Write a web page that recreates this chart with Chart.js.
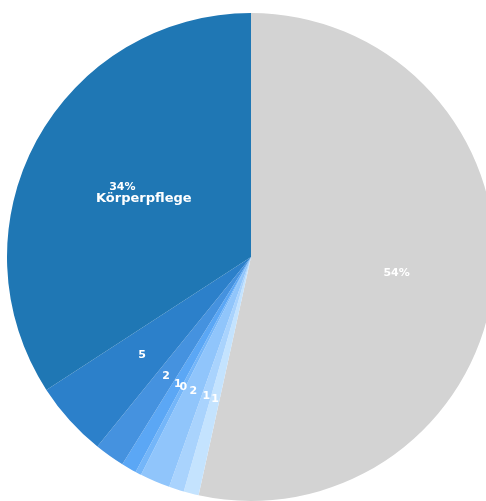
<!DOCTYPE html>
<html>
<head>
<meta charset="utf-8">
<script src="https://cdn.jsdelivr.net/npm/chart.js@4/dist/chart.umd.min.js"></script>
<style>
    html, body { margin: 0; padding: 0; background: #fff; overflow: hidden; }
    #wrap { position: absolute; left: 0; top: 6px; width: 502px; height: 502px; }
</style>
</head>
<body>
<div id="wrap"><canvas id="chart"></canvas></div>
<script>
const categories = ["", "", "", "", "", "", "", "", "Körperpflege"];
const shares = [53.5, 1, 1, 2, 0.4, 1, 2, 5, 34.2];
const colors = ["#d3d3d3", "#c4e3fe", "#a9d3fd", "#90c5fb", "#74b6f9", "#5ba7f5", "#4592df", "#2c80ca", "#1f77b4"];

// draws the value (and category name if any) inside each slice
const sliceLabels = {
    id: "sliceLabels",
    afterDatasetsDraw(chart) {
        const ctx = chart.ctx;
        const meta = chart.getDatasetMeta(0);
        ctx.save();
        ctx.fillStyle = "#ffffff";
        ctx.textAlign = "center";
        ctx.textBaseline = "middle";
        meta.data.forEach((arc, i) => {
            const mid = (arc.startAngle + arc.endAngle) / 2;
            const r = arc.outerRadius;
            const value = Math.round(shares[i]);
            const text = shares[i] >= 10 ? value + "%" : String(value);
            ctx.font = "bold 11px 'DejaVu Sans'";
            ctx.fillText(text, arc.x + Math.cos(mid) * r * 0.6, arc.y + Math.sin(mid) * r * 0.6);
            if (categories[i]) {
                ctx.font = "bold 13px 'DejaVu Sans'";
                ctx.fillText(categories[i], arc.x + Math.cos(mid) * r * 0.5, arc.y + Math.sin(mid) * r * 0.5);
            }
        });
        ctx.restore();
    }
};

new Chart(document.getElementById("chart"), {
    type: "pie",
    data: {
        labels: categories,
        datasets: [{
            data: shares,
            backgroundColor: colors,
            borderWidth: 0
        }]
    },
    options: {
        responsive: true,
        maintainAspectRatio: false,
        animation: false,
        layout: { padding: 7 },
        plugins: {
            legend: { display: false },
            tooltip: { enabled: false }
        }
    },
    plugins: [sliceLabels]
});
</script>
</body>
</html>
